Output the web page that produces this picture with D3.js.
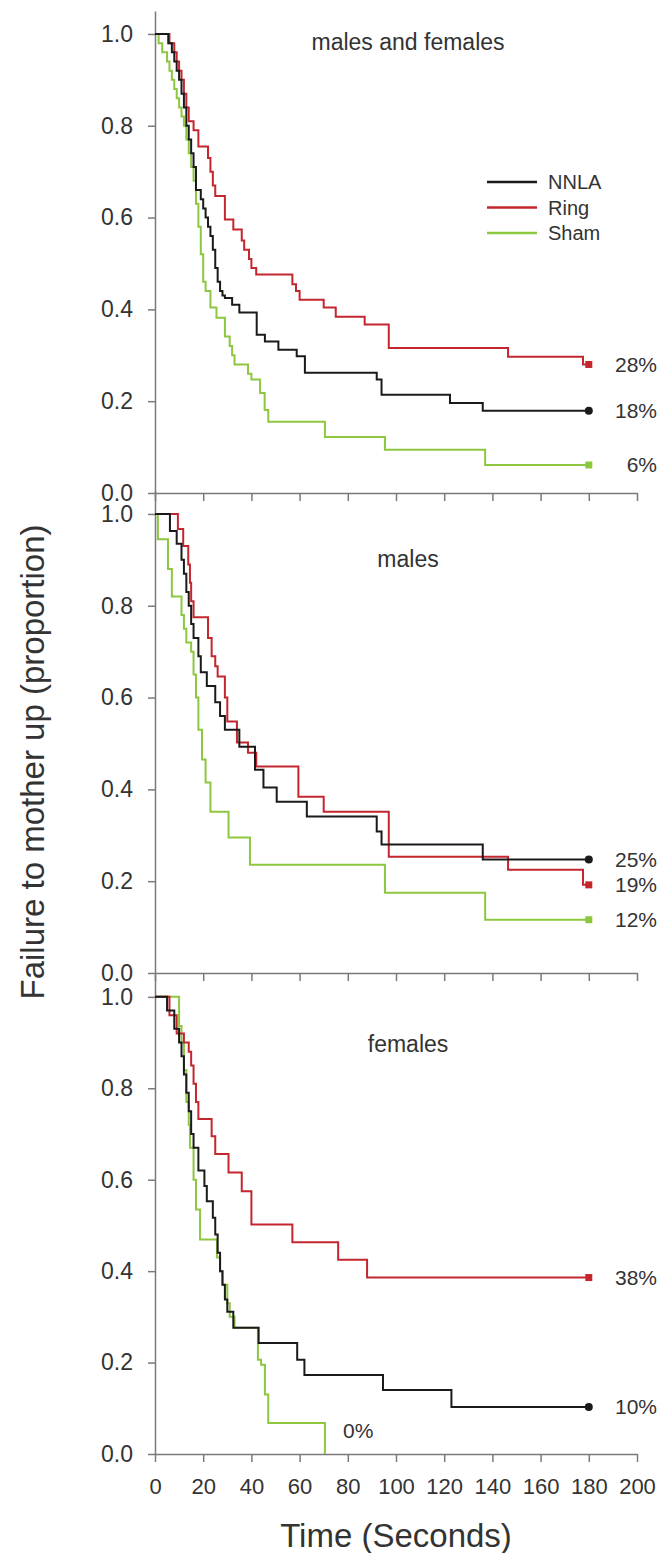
<!DOCTYPE html>
<html>
<head>
<meta charset="utf-8">
<script src="https://cdn.jsdelivr.net/npm/d3@7"></script>
<style>
body { margin: 0; background: #fff; }
svg text { font-family: 'Liberation Sans', Arial, sans-serif; fill: #333; }
.axis path, .axis line { stroke: #7a7a7a; stroke-width: 1.5; }
.curve { fill: none; stroke-width: 2; }
</style>
</head>
<body>
<div id="chart"></div>
<script>
var groups = ['NNLA', 'Ring', 'Sham'];
var colors = ['#1a1a1a', '#c4262e', '#8dc63f'];
var panelTitles = ['males and females', 'males', 'females'];
var xTicks = [0, 20, 40, 60, 80, 100, 120, 140, 160, 180, 200];
var yTicks = [0, 0.2, 0.4, 0.6, 0.8, 1.0];

// step curves: [time (s), proportion still failing]
var allNNLA = [[0, 1], [5.5, 0.98], [7, 0.96], [8, 0.94], [9, 0.92], [10, 0.9], [11, 0.87], [12, 0.84],
  [13, 0.8], [14, 0.77], [15, 0.74], [16, 0.71], [17, 0.66], [19, 0.64], [20, 0.62], [21, 0.6],
  [22, 0.58], [23, 0.56], [24, 0.53], [25, 0.49], [26, 0.46], [27, 0.44], [28, 0.43], [29, 0.425],
  [32, 0.41], [35, 0.393], [42.2, 0.345], [45.6, 0.33], [51.2, 0.312], [58.8, 0.298], [62.2, 0.262],
  [92, 0.247], [94, 0.214], [122.4, 0.196], [136, 0.179], [180, 0.179]];
var allRing = [[0, 1], [6, 0.98], [8, 0.96], [9, 0.94], [10, 0.92], [11, 0.9], [12, 0.87], [13, 0.84],
  [14, 0.81], [16, 0.79], [18, 0.755], [22, 0.73], [23, 0.7], [24, 0.67], [25, 0.647], [29, 0.596],
  [32.5, 0.574], [36, 0.55], [37, 0.53], [39, 0.51], [40, 0.49], [42, 0.476], [57, 0.455], [58.5, 0.44],
  [60, 0.421], [70, 0.404], [75, 0.384], [87, 0.367], [97, 0.316], [146.5, 0.297], [177.6, 0.28], [180, 0.28]];
var allSham = [[0, 1], [1.5, 0.98], [3, 0.96], [5, 0.94], [6, 0.92], [7, 0.9], [8, 0.88], [9, 0.86],
  [10, 0.84], [11, 0.82], [12, 0.8], [13, 0.77], [14, 0.74], [15, 0.71], [16, 0.68], [17, 0.63],
  [18, 0.58], [19, 0.52], [20, 0.46], [21, 0.44], [23, 0.404], [25.5, 0.382], [29, 0.341], [31, 0.32],
  [32, 0.3], [33, 0.28], [38.6, 0.26], [40, 0.247], [43.6, 0.218], [45.5, 0.181], [47, 0.155],
  [70.5, 0.122], [95.4, 0.094], [137, 0.061], [180, 0.061]];
var allPct = ['18%', '28%', '6%'];

var maleNNLA = [[0, 1], [6.2, 0.963], [9, 0.935], [11, 0.9], [12, 0.87], [13, 0.83], [14, 0.8], [15, 0.76],
  [16, 0.73], [18, 0.69], [19, 0.655], [21.5, 0.625], [25, 0.59], [27, 0.56], [29, 0.53], [35, 0.493],
  [41.5, 0.443], [45, 0.404], [50.5, 0.373], [63, 0.341], [92, 0.308], [94, 0.28], [136, 0.247], [180, 0.247]];
var maleRing = [[0, 1], [9.5, 0.967], [11.7, 0.93], [13.8, 0.89], [14.5, 0.85], [15, 0.81], [16, 0.775],
  [22, 0.73], [23.5, 0.69], [25, 0.668], [26, 0.646], [29, 0.6], [30, 0.548], [34, 0.502], [38.6, 0.48],
  [42, 0.45], [59.5, 0.384], [70, 0.351], [97, 0.253], [146.5, 0.225], [177.6, 0.192], [180, 0.192]];
var maleSham = [[0, 1], [1.2, 0.945], [5.4, 0.88], [7, 0.82], [11, 0.78], [12, 0.75], [13, 0.72],
  [15, 0.7], [16, 0.65], [17, 0.6], [18, 0.53], [19.5, 0.465], [21, 0.415], [23, 0.351], [30.5, 0.295],
  [39.4, 0.236], [95.4, 0.175], [137, 0.116], [180, 0.116]];
var malePct = ['25%', '19%', '12%'];

var femNNLA = [[0, 1], [5, 0.97], [8, 0.93], [10, 0.9], [11, 0.87], [12, 0.83], [13, 0.79], [14, 0.75],
  [15, 0.7], [16, 0.67], [18, 0.62], [20.5, 0.586], [21.5, 0.553], [24, 0.517], [25, 0.48], [26, 0.44],
  [27, 0.4], [28, 0.37], [29, 0.338], [30, 0.311], [32.5, 0.276], [43, 0.243], [59, 0.206], [62, 0.173],
  [94.6, 0.14], [123, 0.103], [180, 0.103]];
var femRing = [[0, 1], [6, 0.96], [9, 0.92], [12, 0.9], [14, 0.88], [15, 0.85], [16, 0.81], [17, 0.77],
  [18, 0.733], [23.5, 0.695], [25, 0.656], [30.5, 0.616], [36, 0.575], [40, 0.502], [57, 0.463],
  [76, 0.425], [88, 0.386], [180, 0.386]];
var femSham = [[0, 1], [10, 0.936], [11, 0.9], [12, 0.84], [13, 0.77], [14, 0.72], [14.5, 0.67],
  [16, 0.6], [17, 0.535], [18.7, 0.469], [25.7, 0.43], [27, 0.4], [28, 0.37], [30, 0.33], [31, 0.3],
  [33, 0.276], [42.7, 0.206], [44, 0.195], [45.6, 0.13], [47, 0.068], [70.5, 0]];
var femPct = ['10%', '38%', '0%'];

var panels = [
  { title: panelTitles[0], series: [allNNLA, allRing, allSham], pct: allPct },
  { title: panelTitles[1], series: [maleNNLA, maleRing, maleSham], pct: malePct },
  { title: panelTitles[2], series: [femNNLA, femRing, femSham], pct: femPct }
];

// layout
var W = 661, H = 1553;
var panelBox = [[11, 493], [491, 973], [974, 1454]];
var titleAt = [0.965, 0.885, 0.88];

var svg = d3.select('#chart')
    .append('svg')
    .attr('width', W)
    .attr('height', H);

var x = d3.scaleLinear().domain([0, 200]).range([155, 637]);
var fmt = d3.format('.1f');

panels.forEach(function (p, i) {
  var y = d3.scaleLinear().domain([0, 1.05]).range([panelBox[i][1], panelBox[i][0]]);
  var g = svg.append('g').attr('class', 'panel');
  var last = i === panels.length - 1;

  var xAxis = d3.axisBottom(x)
      .tickValues(xTicks)
      .tickSizeInner(8)
      .tickSizeOuter(0)
      .tickPadding(16)
      .tickFormat(last ? d3.format('d') : '');
  g.append('g')
      .attr('class', 'axis')
      .attr('transform', 'translate(0,' + panelBox[i][1] + ')')
      .call(xAxis)
      .selectAll('text')
      .attr('font-size', 22);

  var yAxis = d3.axisLeft(y)
      .tickValues(yTicks)
      .tickSizeInner(7)
      .tickSizeOuter(0)
      .tickPadding(15)
      .tickFormat(fmt);
  g.append('g')
      .attr('class', 'axis')
      .attr('transform', 'translate(' + x(0) + ',0)')
      .call(yAxis)
      .selectAll('text')
      .attr('font-size', 23);

  var line = d3.line()
      .x(function (d) { return x(d[0]); })
      .y(function (d) { return y(d[1]); })
      .curve(d3.curveStepAfter);

  // green first, then red, black on top
  [2, 1, 0].forEach(function (k) {
    g.append('path')
        .attr('class', 'curve')
        .attr('stroke', colors[k])
        .attr('d', line(p.series[k]));
  });

  p.series.forEach(function (s, k) {
    var end = s[s.length - 1];
    if (end[1] > 0) {
      if (k === 0) {
        g.append('circle')
            .attr('cx', x(end[0]))
            .attr('cy', y(end[1]))
            .attr('r', 4)
            .attr('fill', colors[k]);
      } else {
        g.append('rect')
            .attr('x', x(end[0]) - 3.5)
            .attr('y', y(end[1]) - 3.5)
            .attr('width', 7)
            .attr('height', 7)
            .attr('fill', colors[k]);
      }
      g.append('text')
          .attr('x', x(200) + 20)
          .attr('y', y(end[1]))
          .attr('dy', '0.35em')
          .attr('text-anchor', 'end')
          .attr('font-size', 21)
          .text(p.pct[k]);
    } else {
      g.append('text')
          .attr('x', x(end[0] + 7.5))
          .attr('y', y(0.05))
          .attr('dy', '0.35em')
          .attr('text-anchor', 'start')
          .attr('font-size', 21)
          .text(p.pct[k]);
    }
  });

  g.append('text')
      .attr('x', x(105))
      .attr('y', y(titleAt[i]))
      .attr('text-anchor', 'middle')
      .attr('font-size', 23)
      .text(p.title);
});

// legend (top panel)
var legend = svg.append('g')
    .attr('transform', 'translate(487,182)')
    .selectAll('g')
    .data(groups)
    .enter()
    .append('g')
    .attr('transform', function (d, i) { return 'translate(0,' + (i * 25.5) + ')'; });
legend.append('line')
    .attr('x1', 0)
    .attr('x2', 50)
    .attr('stroke-width', 2.5)
    .attr('stroke', function (d, i) { return colors[i]; });
legend.append('text')
    .attr('x', 61)
    .attr('dy', '0.35em')
    .attr('font-size', 20)
    .text(function (d) { return d; });

// axis titles
svg.append('text')
    .attr('x', (x(0) + x(200)) / 2)
    .attr('y', 1547)
    .attr('text-anchor', 'middle')
    .attr('font-size', 33)
    .text('Time (Seconds)');
svg.append('text')
    .attr('transform', 'translate(44,762) rotate(-90)')
    .attr('text-anchor', 'middle')
    .attr('font-size', 33)
    .text('Failure to mother up (proportion)');
</script>
</body>
</html>
